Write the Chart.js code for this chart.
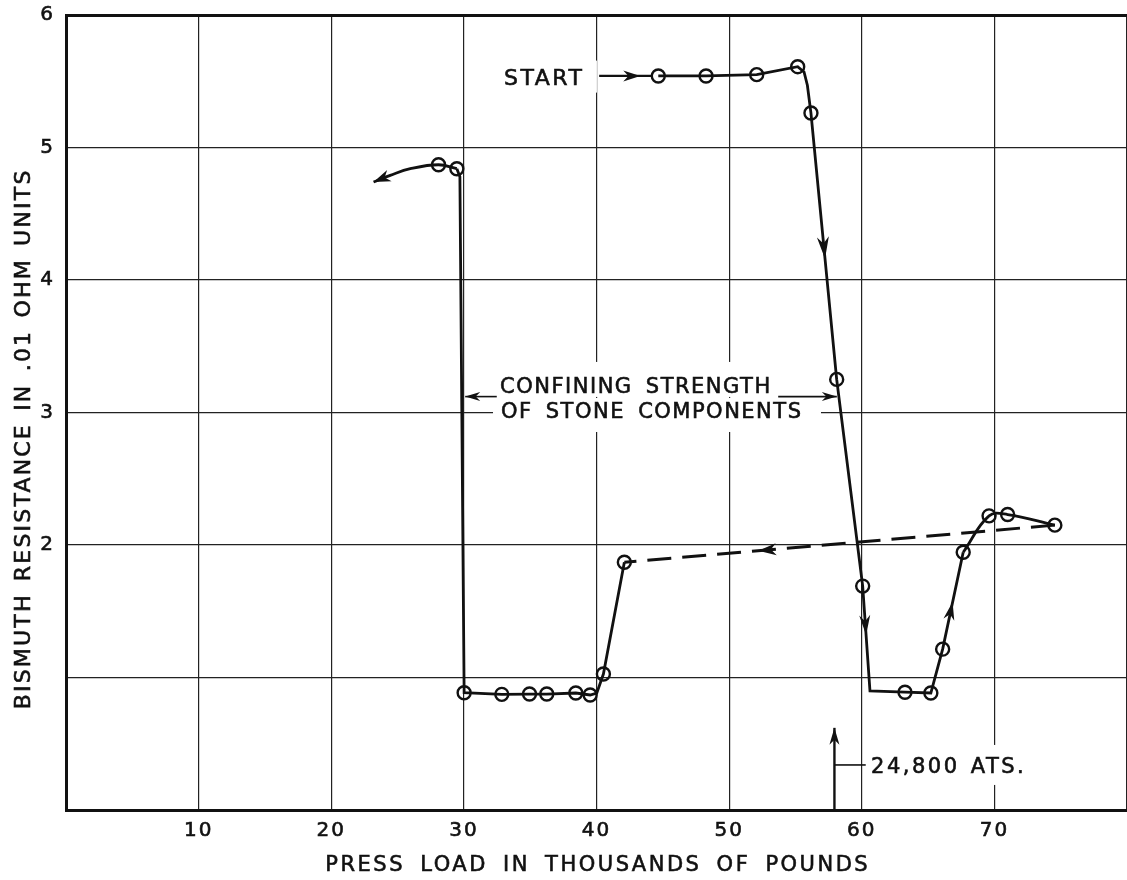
<!DOCTYPE html>
<html>
<head>
<meta charset="utf-8">
<script src="https://cdn.jsdelivr.net/npm/chart.js@4.4.1/dist/chart.umd.min.js"></script>
<style>
  html, body { margin: 0; padding: 0; background: #fff; overflow: hidden; }
  canvas { display: block; }
</style>
</head>
<body>
<canvas id="chart" width="1127" height="880" style="width:1127px;height:880px"></canvas>
<script>
// Bismuth resistance (.01 ohm units) against press load (thousands of pounds)

// Measured readings, drawn as open circles
const readingX = [44.66, 48.26, 52.08, 55.17, 56.17, 58.11, 60.07, 63.26, 65.21, 66.1, 67.65, 69.6, 71.0, 74.56,
                  42.1, 40.52, 39.52, 38.44, 36.25, 34.95, 32.86, 30.02, 29.47, 28.09];
const readingY = [5.54, 5.54, 5.55, 5.61, 5.26, 3.25, 1.69, 0.889, 0.883, 1.214, 1.945, 2.22, 2.23, 2.15,
                  1.87, 1.026, 0.868, 0.883, 0.875, 0.875, 0.873, 0.885, 4.84, 4.87];

// Loading run, from START through the two transitions
const loadTraceX = [44.66, 48.26, 52.08, 55.17, 55.65, 55.9, 56.17, 58.11, 60.07, 60.62, 63.26, 65.21, 66.1, 67.65];
const loadTraceY = [5.54, 5.54, 5.55, 5.61, 5.57, 5.47, 5.26, 3.25, 1.69, 0.898, 0.889, 0.883, 1.214, 1.945];

// Rounded top of the run at the highest loads
const peakTraceX = [67.65, 69.6, 71.0, 74.56];
const peakTraceY = [1.945, 2.22, 2.23, 2.15];

// Release of load (dashed)
const returnTraceX = [74.56, 42.1];
const returnTraceY = [2.15, 1.87];

// Unloading run back through the low-resistance phase
const unloadTraceX = [42.1, 40.52, 40.02, 39.52, 38.44, 36.25, 34.95, 32.86, 30.02, 29.7, 29.47];
const unloadTraceY = [1.87, 1.026, 0.882, 0.868, 0.883, 0.875, 0.875, 0.873, 0.885, 4.78, 4.84];

// Final unloading tail
const tailTraceX = [29.47, 28.09, 25.96, 24.45, 23.19];
const tailTraceY = [4.84, 4.87, 4.84, 4.79, 4.74];

// Axis ticks
const xTickValues = [10, 20, 30, 40, 50, 60, 70];
const xTickLabels = ['10', '20', '30', '40', '50', '60', '70'];
const yTickValues = [2, 3, 4, 5, 6];
const yTickLabels = ['2', '3', '4', '5', '6'];

// Direction arrows: tip point and the point they point away from
const arrowTipX  = [43.3, 57.23, 60.33, 66.85, 52.2, 23.19, 30.1, 58.12, 57.94];
const arrowTipY  = [5.54, 4.16, 1.32, 1.57, 1.957, 4.74, 3.12, 3.12, 0.62];
const arrowFromX = [40.2, 56.17, 60.07, 66.1, 74.56, 24.45, 32.48, 53.7, 57.94];
const arrowFromY = [5.54, 5.26, 1.69, 1.214, 2.15, 4.79, 3.12, 3.12, 0];

// Leader lines for the notes
const leaderX1 = [40.2, 32.48, 53.7, 57.94, 57.94];
const leaderY1 = [5.54, 3.12, 3.12, 0, 0.34];
const leaderX2 = [44.2, 30.1, 58.12, 57.94, 60.3];
const leaderY2 = [5.54, 3.12, 3.12, 0.62, 0.34];

// Notes written on the plot
const noteText = ['START', 'CONFINING STRENGTH', 'OF STONE COMPONENTS', '24,800 ATS.'];
const noteX = [33.03, 32.73, 32.8, 60.7];
const noteY = [5.535, 3.208, 3.019, 0.34];

const xTitle = 'PRESS LOAD IN THOUSANDS OF POUNDS';
const yTitle = 'BISMUTH RESISTANCE IN .01 OHM UNITS';

const INK = '#111';
const FONT = '"DejaVu Sans", "Liberation Sans", sans-serif';
const TEXT_STROKE = 0.6;

// per-note lettering, head size and the white knock-out behind it [left, right, top, bottom]
const noteStyle = [
  { size: 22, spacing: 2.5, word: 0, pad: [7, 15, 16, 16] },
  { size: 21, spacing: 1.5, word: 5, pad: [7, 48, 23, 12] },
  { size: 21, spacing: 1.5, word: 5, pad: [8, 20, 12, 22] },
  { size: 21, spacing: 2.5, word: 2, pad: [5, 8, 20, 20] }
];
const leaderWidth = [2.2, 1.6, 1.6, 2.4, 1.6];
const arrowSize = [[17, 5.5], [22, 6], [20, 5.5], [18, 5.5], [18, 6], [17, 6], [15, 4.5], [15, 4.5], [17, 5]];

const pts = (xs, ys) => xs.map((x, i) => ({ x, y: ys[i] }));

function lineSet(xs, ys, extra) {
  return Object.assign({
    data: pts(xs, ys),
    showLine: true,
    borderColor: INK,
    borderWidth: 2.8,
    pointRadius: 0,
    pointHoverRadius: 0,
    tension: 0,
    fill: false
  }, extra || {});
}

function setLettering(ctx, size, spacing, word) {
  ctx.font = size + 'px ' + FONT;
  ctx.letterSpacing = spacing + 'px';
  ctx.wordSpacing = (word || 0) + 'px';
  ctx.textAlign = 'left';
  ctx.textBaseline = 'alphabetic';
  ctx.fillStyle = INK;
  ctx.strokeStyle = INK;
  ctx.lineWidth = TEXT_STROKE;
}

function letter(ctx, s, x, y) {
  ctx.fillText(s, x, y);
  ctx.strokeText(s, x, y);
}

function noteBox(chart, i) {
  const ctx = chart.ctx;
  const st = noteStyle[i];
  setLettering(ctx, st.size, st.spacing, st.word);
  const w = ctx.measureText(noteText[i]).width - st.spacing;
  const left = chart.scales.x.getPixelForValue(noteX[i]);
  const cy = chart.scales.y.getPixelForValue(noteY[i]);
  return { left, cy, w, st };
}

function arrowHead(ctx, tx, ty, fx, fy, len, half) {
  const a = Math.atan2(ty - fy, tx - fx);
  ctx.save();
  ctx.translate(tx, ty);
  ctx.rotate(a);
  ctx.beginPath();
  ctx.moveTo(0, 0);
  ctx.lineTo(-len, -half);
  ctx.lineTo(-len * 0.7, 0);
  ctx.lineTo(-len, half);
  ctx.closePath();
  ctx.fill();
  ctx.restore();
}

// keep the plot frame flush with the layout padding
function noScalePadding(s) {
  s.paddingTop = 0;
  s.paddingBottom = 0;
  s.paddingLeft = 0;
  s.paddingRight = 0;
}

const notesPlugin = {
  id: 'notes',
  beforeDraw(chart) {
    chart.ctx.letterSpacing = '2px';
  },
  beforeDatasetsDraw(chart) {
    const ctx = chart.ctx;
    ctx.save();
    noteText.forEach((t, i) => {
      const b = noteBox(chart, i);
      const p = b.st.pad;
      ctx.fillStyle = '#fff';
      ctx.fillRect(b.left - p[0], b.cy - p[2], b.w + p[0] + p[1], p[2] + p[3]);
    });
    ctx.restore();
  },
  afterDatasetsDraw(chart) {
    const ctx = chart.ctx;
    const sx = chart.scales.x, sy = chart.scales.y;
    ctx.save();
    ctx.strokeStyle = INK;
    ctx.fillStyle = INK;
    ctx.lineCap = 'butt';
    leaderX1.forEach((x1, i) => {
      ctx.lineWidth = leaderWidth[i];
      ctx.beginPath();
      ctx.moveTo(sx.getPixelForValue(x1), sy.getPixelForValue(leaderY1[i]));
      ctx.lineTo(sx.getPixelForValue(leaderX2[i]), sy.getPixelForValue(leaderY2[i]));
      ctx.stroke();
    });
    arrowTipX.forEach((tx, i) => {
      arrowHead(ctx,
        sx.getPixelForValue(tx), sy.getPixelForValue(arrowTipY[i]),
        sx.getPixelForValue(arrowFromX[i]), sy.getPixelForValue(arrowFromY[i]),
        arrowSize[i][0], arrowSize[i][1]);
    });
    noteText.forEach((t, i) => {
      const b = noteBox(chart, i);
      letter(ctx, t, b.left, b.cy + b.st.size * 0.365);
    });
    ctx.restore();
  },
  afterDraw(chart) {
    const ctx = chart.ctx;
    const area = chart.chartArea;
    ctx.save();
    // x axis title
    setLettering(ctx, 21, 2.5, 6);
    let w = ctx.measureText(xTitle).width - 2.5;
    letter(ctx, xTitle, (area.left + area.right) / 2 - w / 2, 863 + 21 * 0.365);
    // y axis title
    setLettering(ctx, 22, 2.2, 3);
    w = ctx.measureText(yTitle).width - 2.2;
    ctx.translate(22, 440);
    ctx.rotate(-Math.PI / 2);
    letter(ctx, yTitle, -w / 2, 22 * 0.365);
    ctx.restore();
  }
};

const tickFont = { family: FONT, size: 20 };

new Chart(document.getElementById('chart'), {
  type: 'scatter',
  data: {
    datasets: [
      {
        data: pts(readingX, readingY),
        showLine: false,
        pointRadius: 6.5,
        pointHoverRadius: 6.5,
        pointBorderWidth: 2.4,
        pointBorderColor: INK,
        pointBackgroundColor: 'rgba(0,0,0,0)'
      },
      lineSet(loadTraceX, loadTraceY),
      lineSet(peakTraceX, peakTraceY, { tension: 0.4 }),
      lineSet(returnTraceX, returnTraceY, { borderDash: [24, 11], borderWidth: 3 }),
      lineSet(unloadTraceX, unloadTraceY),
      lineSet(tailTraceX, tailTraceY, { tension: 0.4 })
    ]
  },
  options: {
    responsive: false,
    animation: false,
    devicePixelRatio: 1,
    events: [],
    layout: { autoPadding: false, padding: { top: 15, right: 0, bottom: 0, left: 0 } },
    plugins: {
      legend: { display: false },
      tooltip: { enabled: false }
    },
    scales: {
      x: {
        type: 'linear',
        min: 0,
        max: 80,
        afterFit: s => { s.height = 70; noScalePadding(s); },
        ticks: {
          stepSize: 10,
          autoSkip: false,
          maxRotation: 0,
          padding: 9,
          color: INK,
          textStrokeColor: INK,
          textStrokeWidth: TEXT_STROKE,
          font: tickFont,
          callback: v => {
            const k = xTickValues.indexOf(v);
            return k >= 0 ? xTickLabels[k] : '';
          }
        },
        grid: { color: '#222', lineWidth: 1.2, drawTicks: false },
        border: { color: INK, width: 3 }
      },
      y: {
        type: 'linear',
        min: 0,
        max: 6,
        afterFit: s => { s.width = 66; noScalePadding(s); },
        ticks: {
          stepSize: 1,
          padding: 11,
          color: INK,
          textStrokeColor: INK,
          textStrokeWidth: TEXT_STROKE,
          font: tickFont,
          callback: v => {
            const k = yTickValues.indexOf(v);
            return k >= 0 ? yTickLabels[k] : '';
          }
        },
        grid: {
          color: c => (c.tick && c.tick.value === 6 ? INK : '#222'),
          lineWidth: c => (c.tick && c.tick.value === 6 ? 3 : 1.2),
          drawTicks: false
        },
        border: { color: INK, width: 3 }
      }
    }
  },
  plugins: [notesPlugin]
});
</script>
</body>
</html>
